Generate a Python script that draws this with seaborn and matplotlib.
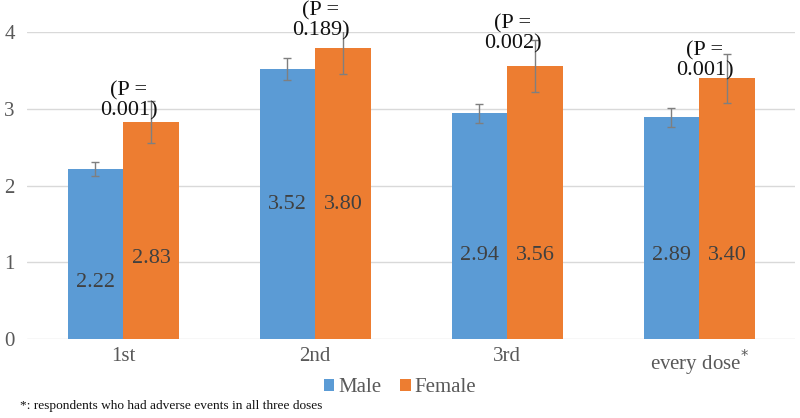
import matplotlib
matplotlib.use("Agg")
import matplotlib.pyplot as plt
import seaborn as sns
import pandas as pd
from matplotlib.patches import Patch

categories = ["1st", "2nd", "3rd", "every dose*"]
male = [2.22, 3.52, 2.94, 2.89]
female = [2.83, 3.80, 3.56, 3.40]
male_err = [0.09, 0.14, 0.13, 0.12]
female_err = [0.27, 0.35, 0.34, 0.32]
p_values = ["0.001", "0.189", "0.002", "0.001"]
series = ["Male", "Female"]
yticks = [0, 1, 2, 3, 4]

# layout: vertical position of value labels (data units) and P-label nudges
male_label_y = [0.74, 1.76, 1.09, 1.09]
female_label_y = [1.05, 1.75, 1.09, 1.09]
p_label_dy = [0.0, 0.0, 0.08, -0.09]

sns.set_theme(style="white")
plt.rcParams["font.family"] = ["Liberation Serif", "DejaVu Serif"]

df = pd.DataFrame({
    "cat": categories * 2,
    "val": male + female,
    "sex": ["Male"] * 4 + ["Female"] * 4,
})

fig = plt.figure(figsize=(8, 4.18), dpi=100)
ax = fig.add_axes([0.034, 0.189, 0.96, 0.734])
colors = {"Male": "#5B9BD5", "Female": "#ED7D31"}
sns.barplot(data=df, x="cat", y="val", hue="sex", hue_order=series, order=categories,
            palette=colors, errorbar=None, width=0.58, saturation=1, ax=ax,
            edgecolor="none", legend=False)

ax.set_ylim(0, 4)
ax.set_xlim(-0.5, 3.5)
ax.set_yticks(yticks)
ax.yaxis.grid(True, color="#D9D9D9", linewidth=1)
ax.set_axisbelow(True)
for s in ax.spines.values():
    s.set_visible(False)
ax.tick_params(axis="both", length=0, labelsize=15, colors="#595959")
ax.tick_params(axis="x", pad=6)
ax.tick_params(axis="y", pad=9)
ax.set_xlabel("")
ax.set_ylabel("")
ax.set_xticks(range(4))
ax.set_xticklabels(["1st", "2nd", "3rd", "every dose$^{*}$"])

containers = ax.containers
for cont, vals, errs, ly in [(containers[0], male, male_err, male_label_y),
                             (containers[1], female, female_err, female_label_y)]:
    for patch, v, e, y in zip(cont.patches, vals, errs, ly):
        xc = patch.get_x() + patch.get_width() / 2
        ax.errorbar(xc, v, yerr=e, fmt="none", ecolor="#7F7F7F", elinewidth=1,
                    capsize=3, capthick=1)
        ax.text(xc, y, f"{v:.2f}", ha="center", va="center", fontsize=16, color="#404040")

for i, (p, f, e, dy) in enumerate(zip(p_values, female, female_err, p_label_dy)):
    ax.text(i + 0.03, f + e + dy, f"(P =\n{p})", ha="center", va="center", fontsize=16,
            color="#111111", linespacing=1.05, clip_on=False)

handles = [Patch(facecolor=colors[s], edgecolor="none") for s in series]
fig.legend(handles, series, loc="center", bbox_to_anchor=(0.5, 0.072), ncol=2, frameon=False,
           fontsize=15, handlelength=0.5, handleheight=0.5, handletextpad=0.2,
           columnspacing=0.9, labelcolor="#595959")

fig.text(0.025, 0.029, "*: respondents who had adverse events in all three doses",
         fontsize=9.6, color="#111111", va="center", ha="left")

fig.savefig("out.png", dpi=100)
